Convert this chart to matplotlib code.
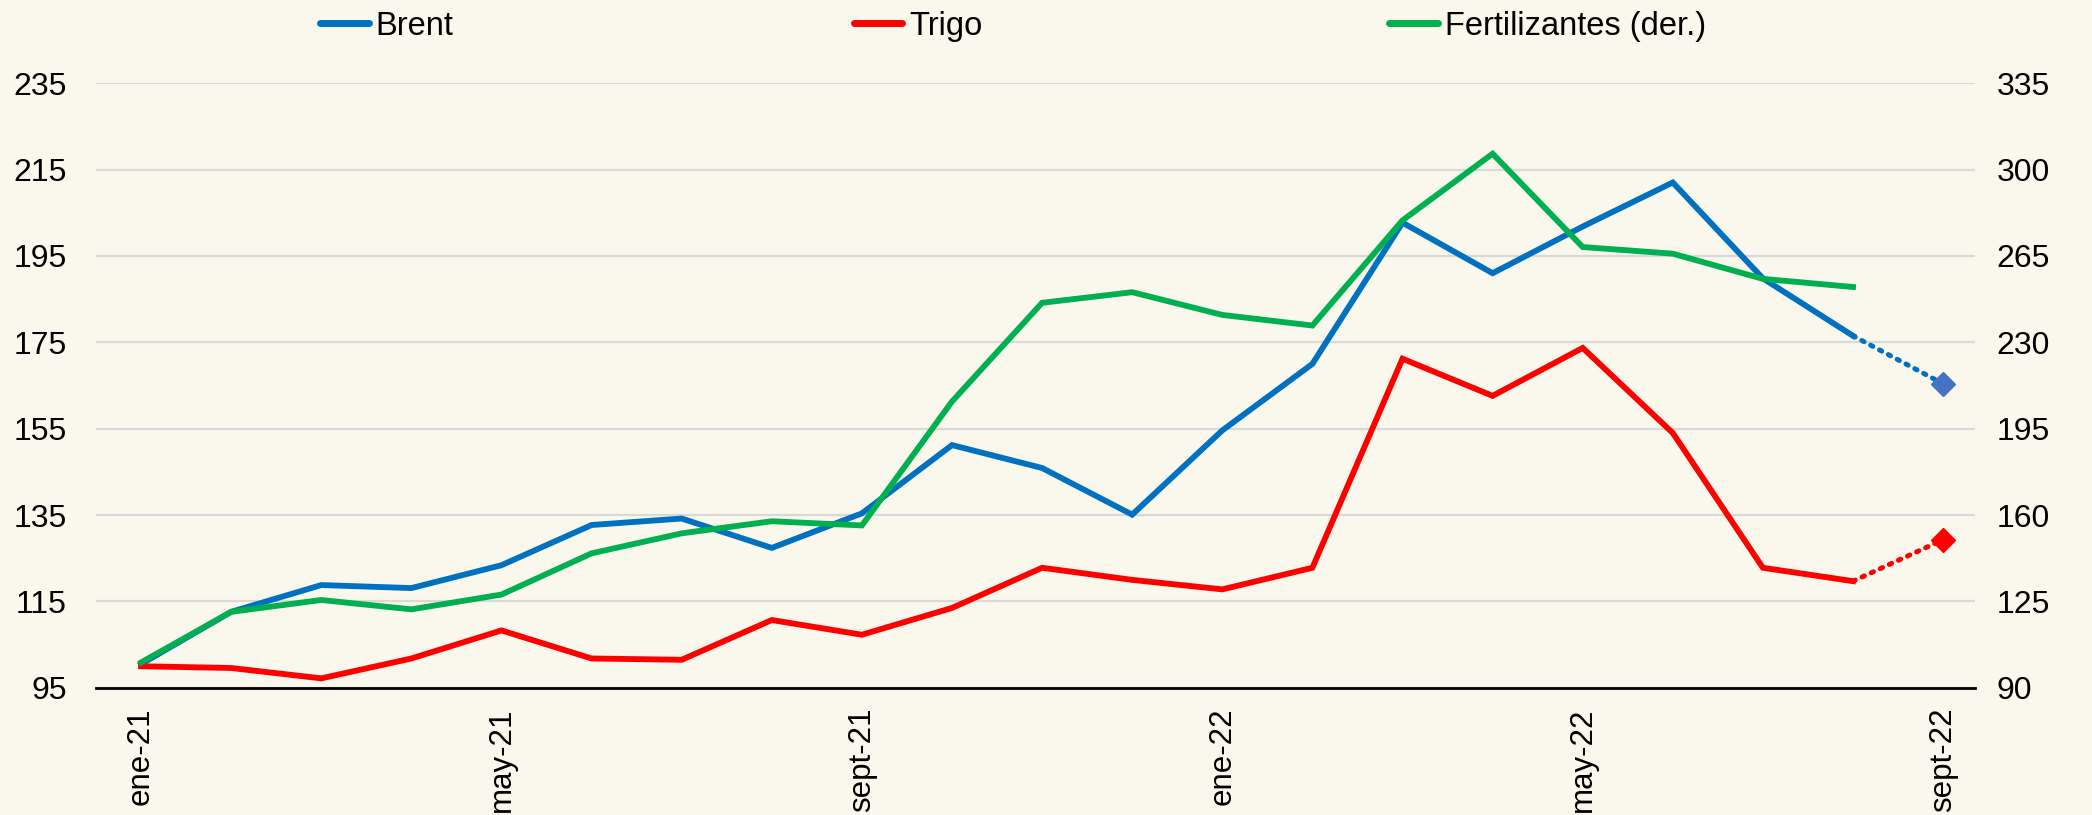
import matplotlib
matplotlib.use("Agg")
import matplotlib.pyplot as plt
from matplotlib.lines import Line2D

plt.rcParams['font.family'] = ['Liberation Sans', 'DejaVu Sans']

meses = ["ene-21", "feb-21", "mar-21", "abr-21", "may-21", "jun-21", "jul-21",
         "ago-21", "sept-21", "oct-21", "nov-21", "dic-21", "ene-22", "feb-22",
         "mar-22", "abr-22", "may-22", "jun-22", "jul-22", "ago-22", "sept-22"]

brent = [100.5, 112.6, 118.8, 118.1, 123.4, 132.7, 134.2, 127.4, 135.4, 151.2,
         145.9, 135.1, 154.6, 170.0, 202.7, 191.0, 201.8, 212.0, 189.8, 176.5]
brent_sept = 165.4

trigo = [100.0, 99.6, 97.2, 101.8, 108.3, 101.8, 101.5, 110.7, 107.3, 113.5,
         122.8, 120.0, 117.8, 122.8, 171.2, 162.6, 173.7, 154.0, 122.8, 119.7]
trigo_sept = 129.3

fertilizantes = [100.3, 120.8, 125.6, 121.8, 127.8, 144.5, 152.6, 157.5, 155.8, 206.0,
                 246.0, 250.3, 241.1, 236.8, 279.4, 306.4, 268.6, 265.9, 255.7, 252.4]

ticks_izq = [95, 115, 135, 155, 175, 195, 215, 235]
ticks_der = [90, 125, 160, 195, 230, 265, 300, 335]

c_brent = "#0070C0"
c_trigo = "#FF0000"
c_fert = "#00B050"
fondo = "#FAF8EC"

fig = plt.figure(figsize=(20.92, 8.15), dpi=100, facecolor=fondo)
ax = fig.add_axes([0.0459, 0.156, 0.898, 0.742])
ax.set_facecolor(fondo)
ax2 = ax.twinx()

x = list(range(len(meses)))
n = len(brent)

ax.plot(x[:n], brent, color=c_brent, lw=4.2, solid_joinstyle='miter', zorder=4)
ax.plot(x[:n], trigo, color=c_trigo, lw=4.2, solid_joinstyle='miter', zorder=4)
ax2.plot(x[:len(fertilizantes)], fertilizantes, color=c_fert, lw=4.2,
         solid_joinstyle='miter', zorder=3)

# proyección septiembre
ax.plot([x[n - 1], x[n]], [brent[-1], brent_sept], color=c_brent, lw=3.6,
        linestyle=(0, (0.5, 1.5)), dash_capstyle='round', zorder=4)
ax.plot([x[n]], [brent_sept], marker='D', color="#4472C4", ms=12, lw=0, zorder=5)
ax.plot([x[n - 1], x[n]], [trigo[-1], trigo_sept], color=c_trigo, lw=3.6,
        linestyle=(0, (0.5, 1.5)), dash_capstyle='round', zorder=4)
ax.plot([x[n]], [trigo_sept], marker='D', color=c_trigo, ms=12, lw=0, zorder=5)

ax.set_xlim(-0.5, 20.35)
ax.set_ylim(95, 235)
ax2.set_ylim(90, 335)
ax.set_yticks(ticks_izq)
ax2.set_yticks(ticks_der)

ax.set_xticks(x[::4])
ax.set_xticklabels(meses[::4], rotation=90, va='top', ha='center')

ax.grid(axis='y', color="#D9D9D9", lw=1.6)
ax.set_axisbelow(True)
for a in (ax, ax2):
    for s in a.spines.values():
        s.set_visible(False)
ax.spines['bottom'].set_visible(True)
ax.spines['bottom'].set_color('black')
ax.spines['bottom'].set_linewidth(2)
ax.spines['bottom'].set_zorder(6)

ax.tick_params(axis='y', length=0, pad=21, labelsize=23)
ax2.tick_params(axis='y', length=0, pad=16, labelsize=23)
ax.tick_params(axis='x', length=0, pad=14, labelsize=22.5)

# leyenda superior
etiquetas = ["Brent", "Trigo", "Fertilizantes (der.)"]
colores = [c_brent, c_trigo, c_fert]
posiciones = [0.153, 0.408, 0.664]
for et, col, px in zip(etiquetas, colores, posiciones):
    h = Line2D([], [], color=col, lw=5, solid_capstyle='round')
    fig.legend([h], [et], loc='center left', bbox_to_anchor=(px, 0.968),
               frameon=False, fontsize=23.5, handlelength=1.5, handletextpad=0.2,
               borderpad=0, borderaxespad=0)

fig.savefig("out.png", dpi=100, facecolor=fondo)
